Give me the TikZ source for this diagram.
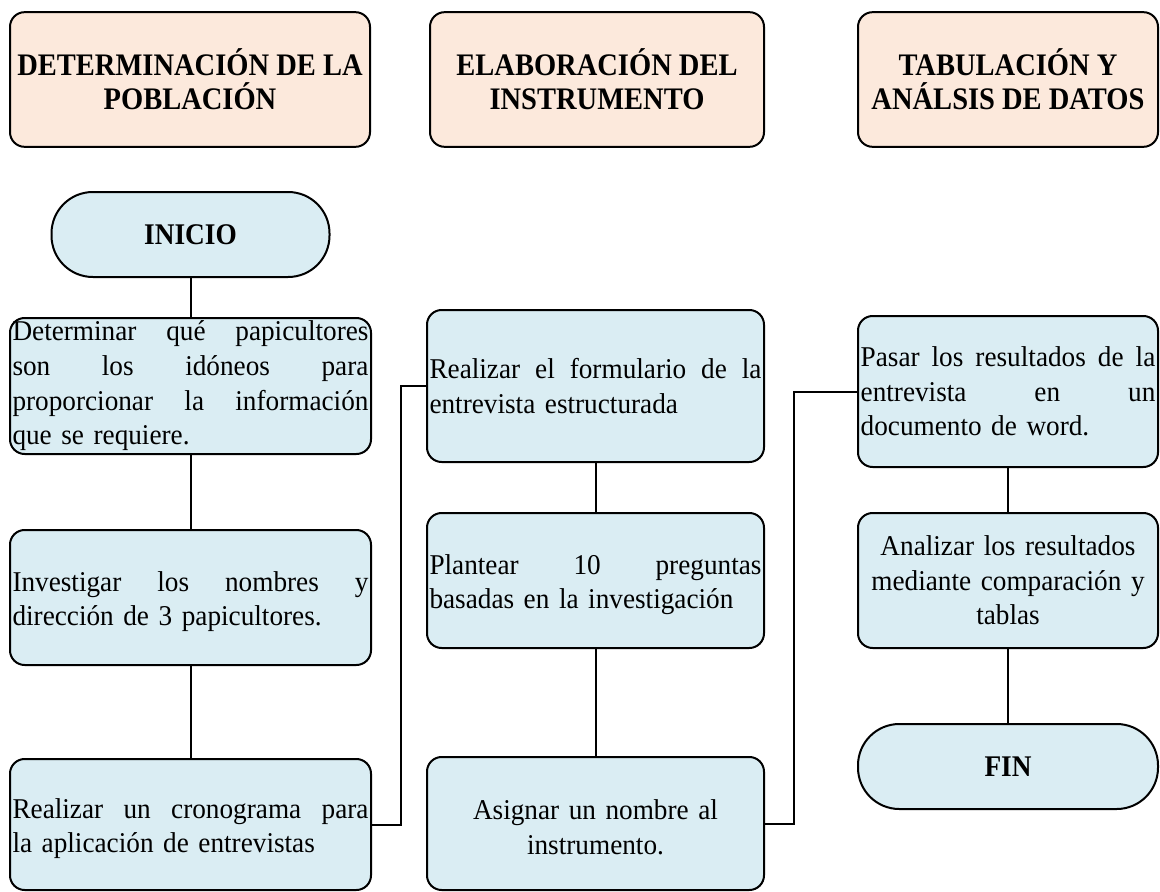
\documentclass[tikz,border=0pt]{standalone}
\usepackage{fontspec}
\setmainfont{Liberation Serif}[FakeStretch=0.95]
\newfontfamily\headfont{Liberation Serif}[FakeStretch=0.91]
\usepackage{xcolor}
\definecolor{peach}{RGB}{252,233,220}
\definecolor{paleblue}{RGB}{218,237,243}

\begin{document}
\begin{tikzpicture}[x=0.75pt,y=0.75pt,yscale=-1,xscale=1,
  headbox/.style={draw, line width=1.5pt, fill=peach, rounded corners=11pt, minimum height=101pt, align=center, font=\headfont\fontsize{23.5}{25.5}\bfseries\selectfont},
  stepbox/.style={draw, line width=1.5pt, fill=paleblue, rounded corners=11pt, inner xsep=1.5pt, inner ysep=0pt, align=left, font=\fontsize{21.5}{26}\selectfont},
  lowtext/.style={text height=21pt},
  endbox/.style={draw, line width=1.5pt, fill=paleblue, rounded corners=31pt, minimum height=63.75pt, font=\headfont\fontsize{22.5}{26}\bfseries\selectfont},
  link/.style={line width=1.5pt}]
\useasboundingbox (0,0) rectangle (1160,892);

%Shape: headers
\node[headbox, minimum width=270pt] (pob) at (190,79.5) {DETERMINACIÓN DE LA\\POBLACIÓN};
\node[headbox, minimum width=250.5pt] (ins) at (597,79.5) {ELABORACIÓN DEL\\INSTRUMENTO};
\node[headbox, minimum width=225pt] (tab) at (1008,79.5) {TABULACIÓN Y\\ANÁLSIS DE DATOS};

%Shape: terminals
\node[endbox, minimum width=208.5pt] (inicio) at (190.5,234.5) {INICIO};
\node[endbox, minimum width=225pt] (fin) at (1008,766.5) {FIN};

%Shape: first column
\node[stepbox, minimum width=270.75pt, text width=267pt, minimum height=102pt] (a1) at (190.5,386) {Determinar\hfill qué\hfill papicultores\\son\hfill los\hfill idóneos\hfill para\\proporcionar\hfill la\hfill información\\que se requiere.};
\node[stepbox, lowtext, minimum width=270.75pt, text width=267pt, minimum height=101.25pt] (a2) at (190.5,597.5) {Investigar\hfill los\hfill nombres\hfill y\\dirección de 3 papicultores.};
\node[stepbox, lowtext, minimum width=270.75pt, text width=267pt, minimum height=98.25pt] (a3) at (190.5,824.5) {Realizar\hfill un\hfill cronograma\hfill para\\la aplicación de entrevistas};

%Shape: second column
\node[stepbox, minimum width=252.75pt, text width=249pt, minimum height=114pt] (b1) at (595.5,386) {Realizar\hfill el\hfill formulario\hfill de\hfill la\\entrevista estructurada};
\node[stepbox, lowtext, minimum width=252.75pt, text width=249pt, minimum height=101.25pt] (b2) at (595.5,580.5) {Plantear\hfill 10\hfill preguntas\\basadas en la investigación};
\node[stepbox, lowtext, minimum width=252.75pt, text width=249pt, minimum height=99.75pt, align=center] (b3) at (595.5,823.5) {Asignar un nombre al\\instrumento.};

%Shape: third column
\node[stepbox, minimum width=225pt, text width=221pt, minimum height=113.25pt] (c1) at (1008,391.5) {Pasar\hfill los\hfill resultados\hfill de\hfill la\\entrevista\hfill en\hfill un\\documento de word.};
\node[stepbox, minimum width=225pt, text width=221pt, minimum height=101.25pt, align=center] (c2) at (1008,580.5) {Analizar los resultados\\mediante comparación y\\tablas};

%Straight Lines
\draw[link] (inicio.south) -- (a1.north);
\draw[link] (a1.south) -- (a2.north);
\draw[link] (a2.south) -- (a3.north);
\draw[link] (a3.east) -- ++(29,0) |- (b1.west);
\draw[link] (b1.south) -- (b2.north);
\draw[link] (b2.south) -- (b3.north);
\draw[link] (b3.east) -- ++(29,0) |- (c1.west);
\draw[link] (c1.south) -- (c2.north);
\draw[link] (c2.south) -- (fin.north);

\end{tikzpicture}
\end{document}
